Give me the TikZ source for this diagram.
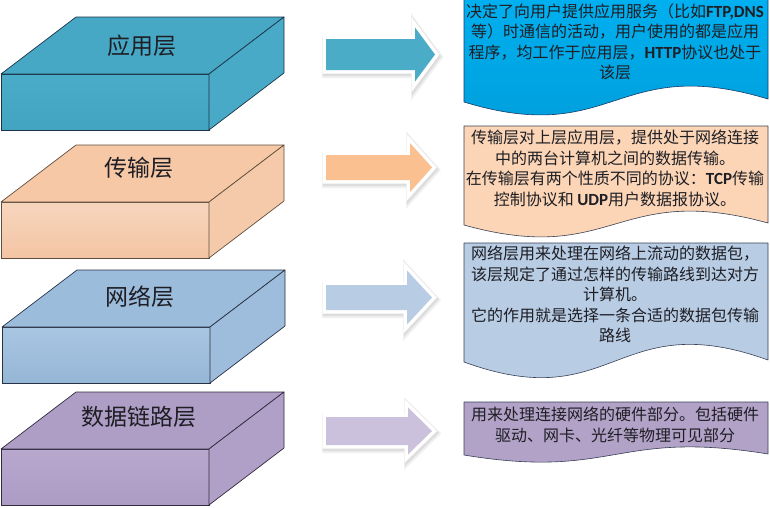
\documentclass[tikz,border=0pt]{standalone}
\usepackage{fontspec}
\setmainfont{Noto Sans CJK SC}
\newfontfamily\latf{Carlito}[FakeBold=0]
\definecolor{aTop}{RGB}{70,168,197}
\definecolor{aFrontT}{RGB}{74,172,200}
\definecolor{aFrontB}{RGB}{66,164,192}
\definecolor{aSide}{RGB}{72,170,198}
\definecolor{aEdge}{RGB}{28,52,72}
\definecolor{bTop}{RGB}{246,200,165}
\definecolor{bFrontT}{RGB}{247,214,190}
\definecolor{bFrontB}{RGB}{243,196,163}
\definecolor{bSide}{RGB}{245,202,170}
\definecolor{bEdge}{RGB}{95,78,62}
\definecolor{cTop}{RGB}{156,188,220}
\definecolor{cFrontT}{RGB}{168,198,226}
\definecolor{cFrontB}{RGB}{150,182,214}
\definecolor{cSide}{RGB}{158,188,219}
\definecolor{cEdge}{RGB}{40,50,70}
\definecolor{dTop}{RGB}{174,158,198}
\definecolor{dFrontT}{RGB}{184,168,206}
\definecolor{dFrontB}{RGB}{172,156,196}
\definecolor{dSide}{RGB}{176,160,200}
\definecolor{dEdge}{RGB}{50,42,62}
\definecolor{arA}{RGB}{74,172,198}
\definecolor{arB}{RGB}{250,192,144}
\definecolor{arC}{RGB}{184,204,228}
\definecolor{arD}{RGB}{204,193,220}
\definecolor{docAT}{RGB}{0,176,240}
\definecolor{docAB}{RGB}{0,156,216}
\definecolor{docB}{RGB}{251,213,182}
\definecolor{docC}{RGB}{184,204,228}
\definecolor{docD}{RGB}{178,162,199}
\definecolor{docEdge}{RGB}{55,65,85}
\definecolor{docEdgeA}{RGB}{25,60,105}
\definecolor{txt}{RGB}{30,30,36}
\newcommand\layerbox[7]{%
  \path[draw=#7, line width=0.7pt, top color=#4, bottom color=#5] (#1,#2) rectangle ++(208,56);
  \path[draw=#7, line width=0.7pt, fill=#3, line join=round] (#1,#2) -- ++(75,-57) -- ++(208,0) -- ++(-75,57) -- cycle;
  \path[draw=#7, line width=0.7pt, fill=#6, line join=round] (#1+208,#2) -- ++(75,-57) -- ++(0,56) -- ++(-75,57) -- cycle;
}
\newcommand\blockarrow[6]{%
  \fill[#6,
    preaction={draw=black, opacity=0.06, line width=11pt, line join=miter, transform canvas={shift={(1.5pt,-2.5pt)}}},
    preaction={draw=black, opacity=0.08, line width=8.5pt, line join=miter, transform canvas={shift={(1pt,-1.8pt)}}},
    preaction={draw=white, line width=7pt, line join=miter}]
    (326,#1-#2) -- (#4,#1-#2) -- (#4,#1-#3) -- (#5,#1) -- (#4,#1+#3) -- (#4,#1+#2) -- (326,#1+#2) -- cycle;
}
\newcommand\lt[1]{{\latf\bfseries\fontsize{17}{20.5}\selectfont #1}}
\tikzset{
  lbl/.style={font=\fontsize{23}{23}\selectfont, text=txt, inner sep=0pt},
  doctext/.style={align=center, font=\fontsize{16}{20.5}\selectfont, text=txt, inner sep=0pt},
  docbox/.style={draw=docEdge, line width=0.6pt, line join=round}
}
\begin{document}
\begin{tikzpicture}[x=1pt,y=-1pt]
\useasboundingbox (0,0) rectangle (770,507);
% layer boxes
\layerbox{1}{74}{aTop}{aFrontT}{aFrontB}{aSide}{aEdge}
\layerbox{1}{202}{bTop}{bFrontT}{bFrontB}{bSide}{bEdge}
\layerbox{2}{327}{cTop}{cFrontT}{cFrontB}{cSide}{cEdge}
\layerbox{1}{449}{dTop}{dFrontT}{dFrontB}{dSide}{dEdge}
\node[lbl] (l1) at (142,46) {应用层};
\node[lbl] (l2) at (139,168) {传输层};
\node[lbl] (l3) at (140,297) {网络层};
\node[lbl] (l4) at (139,417) {数据链路层};
% block arrows
\blockarrow{54.5}{15.5}{27}{415}{435}{arA}
\blockarrow{167.5}{12.5}{24.5}{410}{432}{arB}
\blockarrow{297.5}{12.5}{27}{407}{432}{arC}
\blockarrow{431}{14}{23.5}{408}{432}{arD}
% document shapes
\path[docbox, draw=docEdgeA, top color=docAT, bottom color=docAB] (464,-3) -- (768,-3) -- (768,99) .. controls (615,53) and (615,148) .. (464,102) -- cycle;
\path[docbox, fill=docB] (464,126) -- (768,126) -- (768,223) .. controls (615,181) and (615,267) .. (464,225) -- cycle;
\path[docbox, fill=docC] (464,243) -- (768,243) -- (768,360) .. controls (615,305) and (615,417) .. (464,362) -- cycle;
\path[docbox, fill=docD] (464,402) -- (768,402) -- (768,454) .. controls (615,429) and (615,480) .. (464,455) -- cycle;
\node[doctext] (t1) at (615,42) {决定了向用户提供应用服务（比如\lt{FTP,DNS}\\等）时通信的活动，用户使用的都是应用\\程序，均工作于应用层，\lt{HTTP}协议也处于\\该层};
\node[doctext] (t2) at (615,168.5) {传输层对上层应用层，提供处于网络连接\\中的两台计算机之间的数据传输。\\在传输层有两个性质不同的协议：\lt{TCP}传输\\控制协议和 \lt{UDP}用户数据报协议。};
\node[doctext] (t3) at (615,294.5) {网络层用来处理在网络上流动的数据包，\\该层规定了通过怎样的传输路线到达对方\\计算机。\\它的作用就是选择一条合适的数据包传输\\路线};
\node[doctext] (t4) at (615,425) {用来处理连接网络的硬件部分。包括硬件\\驱动、网卡、光纤等物理可见部分};
\end{tikzpicture}
\end{document}
